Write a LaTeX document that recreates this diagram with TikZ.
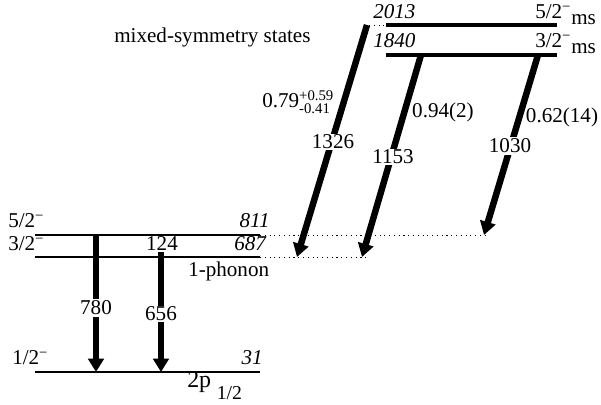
\documentclass[tikz,border=0pt]{standalone}
\usepackage{fontspec}
\setmainfont{Liberation Serif}
\usepackage{amsmath}
\usetikzlibrary{arrows.meta}
\newcommand{\parneg}{\textsuperscript{\char"2212}}

\begin{document}
\begin{tikzpicture}[x=0.025cm, y=-0.025cm,
        font=\fontsize{15}{17}\selectfont,
        lev/.style={line width=0.9pt},
        mslev/.style={line width=2.8pt},
        ext/.style={line width=0.6pt, dash pattern=on 0.8pt off 2.6pt},
        arr/.style={-{Triangle[length=9.5pt,width=11pt]}, line width=4.6pt},
        gam/.style={fill=white, inner sep=1pt},
        txt/.style={inner sep=0pt}
      ]
        \path[use as bounding box] (0,0) rectangle (601,405);
        % levels
        \coordinate (a811) at (35,235);  \coordinate (b811) at (260,235);  \coordinate (c811) at (487,235);
        \coordinate (a687) at (35,257);  \coordinate (b687) at (260,257);  \coordinate (c687) at (366,257);
        \coordinate (a31)  at (35,372);  \coordinate (b31)  at (260,372);
        \coordinate (a2013) at (386,25); \coordinate (b2013) at (557,25); \coordinate (c2013) at (369,25);
        \coordinate (a1840) at (386,55); \coordinate (b1840) at (557,55);
        \draw[lev] (a811) -- (b811);
        \draw[lev] (a687) -- (b687);
        \draw[lev] (a31) -- (b31);
        \draw[ext] (b811) -- (c811);
        \draw[ext] (b687) -- (c687);
        \draw[mslev] (a2013) -- (b2013);
        \draw[mslev] (a1840) -- (b1840);
        \draw[ext] (c2013) -- (a2013);
        % transitions
        \coordinate (s780) at (96,235);   \coordinate (t780) at (96,372);
        \coordinate (s124) at (161,235);  \coordinate (t124) at (161,257);
        \coordinate (s656) at (161,257);  \coordinate (t656) at (161,372);
        \coordinate (s1326) at (367,25);  \coordinate (t1326) at (297,257);
        \coordinate (s1153) at (421,55);  \coordinate (t1153) at (362,257);
        \coordinate (s1030) at (538,55);  \coordinate (t1030) at (484,235);
        \draw[arr] (s780) -- (t780);
        \draw[line width=4.6pt] (s124) -- (t124);
        \draw[arr] (s656) -- (t656);
        \draw[arr] (s1326) -- (t1326);
        \draw[arr] (s1153) -- (t1153);
        \draw[arr] (s1030) -- (t1030);
        \node[gam] (g780)  at (96,308)  {780};
        \node[gam] (g656)  at (161,314) {656};
        \node[gam, anchor=base] (g124) at (162,251) {124};
        \node[gam] (g1326) at (333,142) {1326};
        \node[gam] (g1153) at (393,157) {1153};
        \node[gam] (g1030) at (510,146) {1030};
        \node[txt, anchor=base west] (b1326) at (262,108) {0.79$^{\text{+0.59}}_{\text{-0.41}}$};
        \node[txt] (b1153) at (443,112) {0.94(2)};
        \node[txt] (b1030) at (562,117) {0.62(14)};
        % level labels
        \node[txt, anchor=base west] (j811) at (8,228)  {5/2\parneg};
        \node[txt, anchor=base west] (j687) at (8,251)  {3/2\parneg};
        \node[txt, anchor=base west] (j31)  at (12,365) {1/2\parneg};
        \node[txt, anchor=base east] (e811) at (270,228) {\textit{811}};
        \node[txt, anchor=base east] (e687) at (267,251) {\textit{687}};
        \node[txt, anchor=base east] (e31)  at (263,365) {\textit{31}};
        \node[txt, anchor=base west] (e2013) at (373,19) {\textit{2013}};
        \node[txt, anchor=base west] (e1840) at (373,48) {\textit{1840}};
        \node[txt, anchor=base west] (j2013) at (535,19) {5/2\parneg\raisebox{-4pt}{ms}};
        \node[txt, anchor=base west] (j1840) at (535,48) {3/2\parneg\raisebox{-4pt}{ms}};
        \node[txt, anchor=base west] (ph)  at (188,277) {1-phonon};
        \node[txt, anchor=base west] (sp)  at (187,388) {{\fontsize{17}{19}\selectfont 2p}\hspace{4pt}{\fontsize{14}{16}\selectfont\raisebox{-8pt}{1/2}}};
        \node[txt, anchor=base west] (mss) at (114,43) {mixed-symmetry states};
      \end{tikzpicture}
\end{document}
